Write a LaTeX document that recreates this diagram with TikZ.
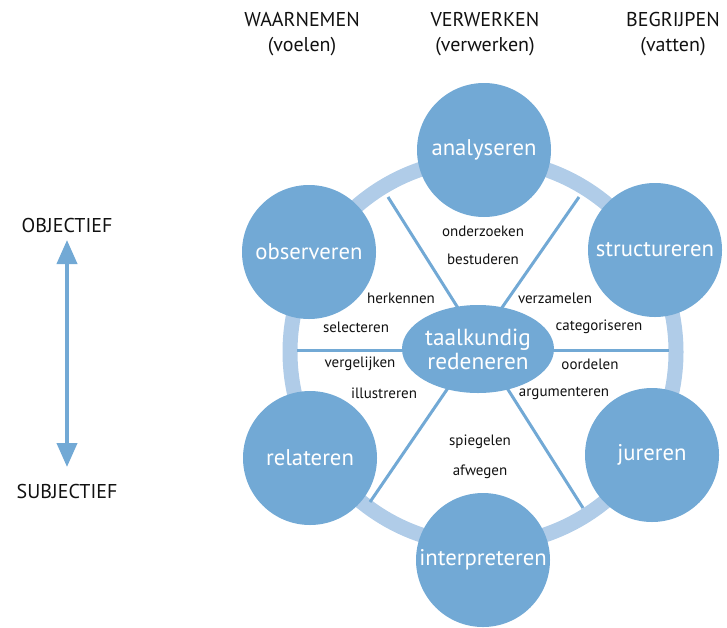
\documentclass[tikz,border=0pt]{standalone}
\usepackage{fontspec}
\setmainfont{PT Sans}
\usetikzlibrary{arrows.meta,shapes.geometric}
\definecolor{circc}{HTML}{72A9D5}
\definecolor{ringc}{HTML}{B0CCE8}
\definecolor{txtc}{HTML}{111111}
\tikzset{
  bigc/.style={circle, fill=circc, minimum size=134pt, inner sep=0pt, text=white, font=\fontsize{22.7}{25}\selectfont},
  head/.style={align=center, text=txtc, font=\fontsize{20}{25}\selectfont},
  side/.style={text=txtc, font=\fontsize{20}{22}\selectfont},
  small/.style={text=txtc, font=\fontsize{15}{17}\selectfont},
  spoke/.style={draw=circc, line width=3pt},
}
\begin{document}
\begin{tikzpicture}[x=1pt,y=-1pt]
\useasboundingbox (0,0) rectangle (727,627);
% ring
\coordinate (rc) at (483,352);
\draw[ringc, line width=15pt] (rc) circle[radius=193];
% spoke end points
\coordinate (sl1) at (297,350); \coordinate (sl2) at (410,350);
\coordinate (sr1) at (548,350); \coordinate (sr2) at (669,350);
\coordinate (ul1) at (388,197); \coordinate (ul2) at (458,308);
\coordinate (ur1) at (579,197); \coordinate (ur2) at (501,309);
\coordinate (ll1) at (370,502); \coordinate (ll2) at (448,388);
\coordinate (lr1) at (583,508); \coordinate (lr2) at (507,388);
\draw[spoke] (sl1) -- (sl2);
\draw[spoke] (sr1) -- (sr2);
\draw[spoke] (ul1) -- (ul2);
\draw[spoke] (ur1) -- (ur2);
\draw[spoke] (ll1) -- (ll2);
\draw[spoke] (lr1) -- (lr2);
% circles
\node[bigc] (ana) at (484,150) {analyseren};
\node[bigc] (str) at (655,250) {structureren};
\node[bigc] (jur) at (652,455) {jureren};
\node[bigc] (int) at (483,560) {interpreteren};
\node[bigc] (rel) at (310,458) {relateren};
\node[bigc] (obs) at (309,252) {observeren};
% centre
\node[ellipse, fill=circc, minimum width=152pt, minimum height=88pt, inner sep=0pt, text=white, align=center,
  font=\fontsize{23.3}{24}\selectfont] (tr) at (478,349) {taalkundig\\redeneren};
% headings
\node[head] (h1) at (302,34) {WAARNEMEN\\(voelen)};
\node[head] (h2) at (485,34) {VERWERKEN\\(verwerken)};
\node[head] (h3) at (673,34) {BEGRIJPEN\\(vatten)};
% objectief / subjectief
\node[side] (obj) at (67,225) {OBJECTIEF};
\node[side] (sub) at (67,491) {SUBJECTIEF};
\coordinate (at) at (67,240);
\coordinate (ab) at (67,467);
\draw[circc, line width=4pt, {Triangle[width=20pt,length=24pt]}-{Triangle[width=20pt,length=24pt]}] (at) -- (ab);
% small labels
\node[small] (l1) at (483,231) {onderzoeken};
\node[small] (l2) at (483,259) {bestuderen};
\node[small] (l3) at (401,298) {herkennen};
\node[small] (l4) at (356,327) {selecteren};
\node[small] (l5) at (555,298) {verzamelen};
\node[small] (l6) at (599,327) {categoriseren};
\node[small] (l7) at (360,364) {vergelijken};
\node[small] (l8) at (384,393) {illustreren};
\node[small] (l9) at (590,364) {oordelen};
\node[small] (l10) at (564,393) {argumenteren};
\node[small] (l11) at (480,442) {spiegelen};
\node[small] (l12) at (480,472) {afwegen};
\end{tikzpicture}
\end{document}
